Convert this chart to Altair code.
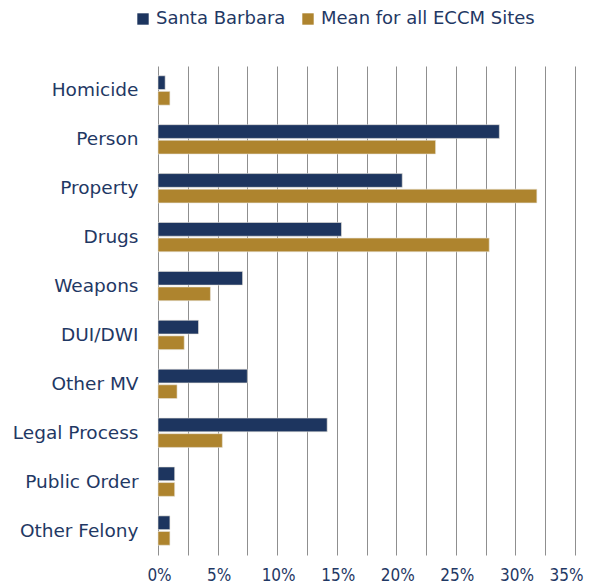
import altair as alt
import pandas as pd

categories = ["Homicide", "Person", "Property", "Drugs", "Weapons", "DUI/DWI",
              "Other MV", "Legal Process", "Public Order", "Other Felony"]
santa_barbara = [0.6, 28.65, 20.5, 15.4, 7.1, 3.4, 7.5, 14.2, 1.4, 1.0]
ecm_mean = [1.0, 23.3, 31.8, 27.8, 4.4, 2.2, 1.6, 5.4, 1.4, 1.0]
series = ["Santa Barbara", "Mean for all ECCM Sites"]
colors = ["#1d355f", "#ae842e"]

rows = []
for c, a, b in zip(categories, santa_barbara, ecm_mean):
    rows.append({"cat": c, "series": series[0], "val": a / 100})
    rows.append({"cat": c, "series": series[1], "val": b / 100})
df = pd.DataFrame(rows)

font = "DejaVu Sans"
tick_font = "DejaVu Sans Condensed"
txt = "#1f3864"
tick_vals = [round(i * 0.025, 4) for i in range(15)]

chart = alt.Chart(df).mark_bar(stroke="#e8e4dc", strokeWidth=0.6).encode(
    x=alt.X("val:Q", scale=alt.Scale(domain=[0, 0.35], nice=False),
            axis=alt.Axis(values=tick_vals, format=".0%",
                          labelExpr="round(datum.value*1000) % 50 == 0 ? format(datum.value, '.0%') : ''",
                          title=None, domain=False, ticks=False, grid=True,
                          gridColor="#8f8f8f", gridWidth=1, labelFont=tick_font,
                          labelFontSize=17, labelColor=txt, labelPadding=12,
                          labelOffset={"condition": {"test": "datum.value >= 0.349", "value": -9},
                                       "value": 1},
                          labelOverlap=False, labelFlush=False, labelBound=False)),
    y=alt.Y("cat:N", sort=categories,
            scale=alt.Scale(paddingInner=0.4, paddingOuter=0.2),
            axis=alt.Axis(title=None, domain=False, ticks=False, labelFont=font,
                          labelFontSize=18.5, labelColor=txt, labelPadding=20,
                          labelLimit=0)),
    yOffset=alt.YOffset("series:N", sort=series, scale=alt.Scale(paddingInner=0.12)),
    color=alt.Color("series:N", sort=series,
                    scale=alt.Scale(domain=series, range=colors),
                    legend=alt.Legend(title=None, orient="none", legendX=-24, legendY=-56,
                                      direction="horizontal", symbolType="square",
                                      symbolSize=130, symbolStrokeWidth=0,
                                      labelFont=font, labelFontSize=18, labelColor=txt,
                                      labelOffset=4, columnPadding=13, labelLimit=0)),
).properties(
    width=417, height=489,
    autosize=alt.AutoSizeParams(type="none"),
    padding={"left": 150, "top": 58, "right": 9, "bottom": 33},
).configure_view(stroke=None)

chart.save("out.html", embed_options={"renderer": "svg", "actions": False})
